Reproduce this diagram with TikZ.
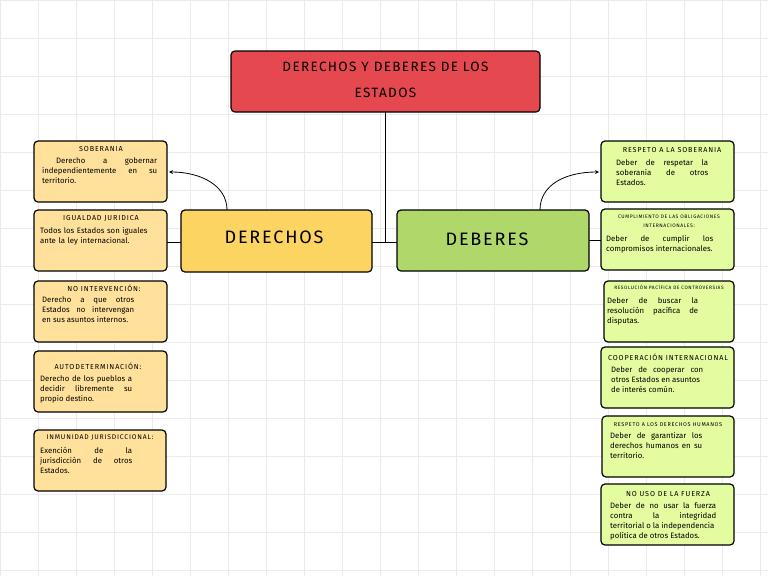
\documentclass[tikz,border=0pt]{standalone}
\usepackage{fontspec}
\setmainfont{Fira Sans}
\newfontfamily\spaced[LetterSpace=12]{Fira Sans}
\newfontfamily\bigsp[LetterSpace=10]{Fira Sans}
\hyphenpenalty=10000
\exhyphenpenalty=10000
\begin{document}
\begin{tikzpicture}[x=1pt,y=-1pt,
 box/.style={draw=black,line width=1.2pt,rounded corners=4pt},
 lb/.style={box,fill=yellowbox},
 rb/.style={box,fill=greenbox},
 hd/.style={font=\spaced\fontsize{7.2}{7}\selectfont,align=center},
 tx/.style={font=\fontsize{7.8}{10}\selectfont,align=justify,text width=#1,anchor=north west,inner sep=0pt},
 ln/.style={line width=0.8pt}]
\definecolor{yellowbox}{HTML}{FFE19C}
\definecolor{greenbox}{HTML}{E3FCA0}
\definecolor{redbox}{HTML}{E5484F}
\definecolor{ybig}{HTML}{FCD462}
\definecolor{gbig}{HTML}{AFD76A}
\useasboundingbox (0,0) rectangle (768,576);
\fill[white] (0,0) rectangle (768,576);
\foreach \i in {0,38,...,760} \draw[black!8,line width=0.4pt] (\i,0) -- (\i,576);
\foreach \i in {0,38,...,570} \draw[black!8,line width=0.4pt] (0,\i) -- (768,\i);
% title
\draw[box,fill=redbox] (231,51) rectangle (540,112);
\node[font=\bigsp\fontsize{13.5}{26}\selectfont,align=center] (t) at (385.5,80) {DERECHOS Y DEBERES DE LOS\\ESTADOS};
\coordinate (tb) at (385,112);
\draw[box,fill=ybig] (181,210) rectangle (372,272);
\node[font=\bigsp\fontsize{18}{20}\selectfont] (der) at (274,237) {DERECHOS};
\draw[box,fill=gbig] (397,210) rectangle (589,271);
\node[font=\bigsp\fontsize{18}{20}\selectfont] (deb) at (487,239) {DEBERES};
\coordinate (j) at (385,243);
\draw[ln] (tb) -- (j);
\draw[ln] (372,242) -- (397,242);
\draw[ln] (181,242) -- (167,242);
\draw[ln] (589,240) -- (601,240);
\draw[ln,->,>=stealth] (227,210) .. controls (227,185) and (200,172) .. (169,172);
\draw[ln,->,>=stealth] (540,210) .. controls (540,185) and (565,172) .. (599,172);
% left
\draw[lb] (34,141) rectangle (167,202);
\node[hd] (s1) at (101,149) {SOBERANIA};
\node[tx=115] (b1) at (42,157) {\hspace*{14pt}Derecho a gobernar\linebreak independientemente en su\linebreak territorio.};
\draw[lb] (34,210) rectangle (167,271);
\node[hd] (s2) at (101,218) {IGUALDAD JURIDICA};
\node[tx=124,align=left] (b2) at (40,227) {Todos los Estados son iguales\\ ante la ley internacional.};
\draw[lb] (34,281) rectangle (167,342);
\node[hd] (s3) at (104,288) {NO INTERVENCIÓN:};
\node[tx=92] (b3) at (42,296) {Derecho a que otros\linebreak Estados no intervengan\linebreak en sus asuntos internos.};
\draw[lb] (34,351) rectangle (167,412);
\node[hd] (s4) at (98,366) {AUTODETERMINACIÓN:};
\node[tx=92] (b4) at (40,375) {Derecho de los pueblos a\linebreak decidir libremente su\linebreak propio destino.};
\draw[lb] (34,430) rectangle (166,491);
\node[hd,font=\spaced\fontsize{6.8}{7}\selectfont] (s5) at (100,438) {INMUNIDAD JURISDICCIONAL:};
\node[tx=92] (b5) at (40,447) {Exención de la\linebreak jurisdicción de otros\linebreak Estados.};
% right
\draw[rb] (601,141) rectangle (734,202);
\node[hd] (r1) at (672,150) {RESPETO A LA SOBERANIA};
\node[tx=92] (c1) at (616,159) {Deber de respetar la\linebreak soberanía de otros\linebreak Estados.};
\draw[rb] (601,209) rectangle (734,270);
\node[hd,font=\spaced\fontsize{5}{9}\selectfont] (r2) at (669,221) {CUMPLIMIENTO DE LAS OBLIGACIONES\\INTERNACIONALES:};
\node[tx=107] (c2) at (606,235) {Deber de cumplir los\linebreak compromisos internacionales.};
\draw[rb] (604,281) rectangle (734,342);
\node[hd,font=\spaced\fontsize{4.8}{6}\selectfont] (r3) at (669,287) {RESOLUCIÓN PACÍFICA DE CONTROVERSIAS};
\node[tx=91] (c3) at (607,297) {Deber de buscar la\linebreak resolución pacífica de\linebreak disputas.};
\draw[rb] (601,347) rectangle (734,408);
\node[hd] (r4) at (668,357) {COOPERACIÓN INTERNACIONAL};
\node[tx=92] (c4) at (611,366) {Deber de cooperar con\linebreak otros Estados en asuntos\\ de interés común.};
\draw[rb] (602,416) rectangle (734,477);
\node[hd,font=\spaced\fontsize{5.5}{6}\selectfont] (r5) at (668,425) {RESPETO A LOS DERECHOS HUMANOS};
\node[tx=92] (c5) at (610,432) {Deber de garantizar los\linebreak derechos humanos en su\linebreak territorio.};
\draw[rb] (601,484) rectangle (734,545);
\node[hd] (r6) at (668,494) {NO USO DE LA FUERZA};
\node[tx=106] (c6) at (610,502) {Deber de no usar la fuerza\linebreak contra la integridad\linebreak territorial o la independencia\\ política de otros Estados.};
\end{tikzpicture}
\end{document}
